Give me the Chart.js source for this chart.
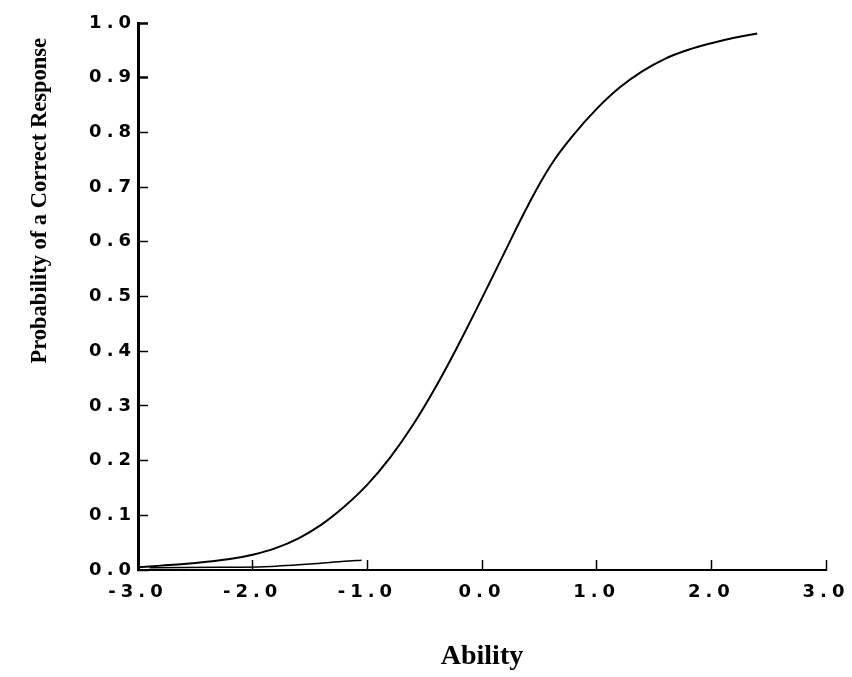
<!DOCTYPE html>
<html>
<head>
<meta charset="utf-8">
<script src="https://cdn.jsdelivr.net/npm/chart.js@4.4.1/dist/chart.umd.min.js"></script>
<style>
  html, body { margin: 0; padding: 0; background: #ffffff; }
  #wrap { position: relative; width: 852px; height: 677px; }
</style>
</head>
<body>
<div id="wrap"><canvas id="chart"></canvas></div>
<script>
// ---- data ----
const abilityX = [-3.0, -2.8, -2.6, -2.4, -2.2, -2.0, -1.8, -1.6, -1.4, -1.2, -1.0, -0.8, -0.6, -0.4, -0.2, 0.0, 0.2, 0.4, 0.6, 0.8, 1.0, 1.2, 1.4, 1.6, 1.8, 2.0, 2.2, 2.4];
const probCorrect = [0.005, 0.008, 0.011, 0.015, 0.020, 0.028, 0.040, 0.058, 0.083, 0.116, 0.156, 0.206, 0.266, 0.336, 0.414, 0.497, 0.582, 0.666, 0.740, 0.796, 0.843, 0.882, 0.912, 0.935, 0.951, 0.963, 0.973, 0.981];
const faintX = [-2.9, -2.3, -1.9, -1.5, -1.2, -1.05];
const faintY = [0.004, 0.005, 0.006, 0.011, 0.016, 0.018];
const xTickLabels = ['-3.0', '-2.0', '-1.0', '0.0', '1.0', '2.0', '3.0'];
const yTickLabels = ['0.0', '0.1', '0.2', '0.3', '0.4', '0.5', '0.6', '0.7', '0.8', '0.9', '1.0'];
const xAxisTitle = 'Ability';
const yAxisTitle = 'Probability of a Correct Response';

// ---- styling ----
const tickFont = { family: '"DejaVu Sans", Verdana, sans-serif', size: 18, weight: 'bold' };
const titleFamily = '"Liberation Serif", "Times New Roman", serif';

const pairs = (xs, ys) => xs.map((x, i) => ({ x: x, y: ys[i] }));

// wide tick-label lettering (tick labels are drawn on a layer after the datasets)
const spacedTicks = {
  id: 'spacedTicks',
  afterDatasetsDraw(chart) { chart.ctx.letterSpacing = '5px'; },
  afterDraw(chart) { chart.ctx.letterSpacing = '0px'; }
};

new Chart(document.getElementById('chart'), {
  type: 'scatter',
  data: {
    datasets: [
      {
        label: 'ICC',
        data: pairs(abilityX, probCorrect),
        showLine: true,
        borderColor: '#000000',
        borderWidth: 2,
        pointRadius: 0,
        tension: 0.4,
        fill: false
      },
      {
        label: 'faint',
        data: pairs(faintX, faintY),
        showLine: true,
        borderColor: '#000000',
        borderWidth: 1.5,
        pointRadius: 0,
        tension: 0.3,
        fill: false
      }
    ]
  },
  options: {
    responsive: true,
    maintainAspectRatio: false,
    animation: false,
    events: [],
    layout: { padding: { left: 0, top: 23, right: 26, bottom: 0 } },
    plugins: { legend: { display: false }, tooltip: { enabled: false } },
    scales: {
      x: {
        type: 'linear',
        position: 'bottom',
        min: -3, max: 3,
        ticks: {
          stepSize: 1,
          z: 1,
          color: '#000000',
          font: tickFont,
          padding: 22,
          maxRotation: 0,
          autoSkip: false,
          callback: (v, i) => xTickLabels[i]
        },
        grid: {
          display: true,
          drawOnChartArea: false,
          drawTicks: true,
          tickLength: -10,
          tickColor: '#000000',
          tickWidth: 1.5,
          color: '#000000'
        },
        border: { display: true, color: '#000000', width: 2 },
        title: {
          display: true,
          text: xAxisTitle,
          color: '#000000',
          font: { family: titleFamily, size: 28, weight: 'bold' },
          padding: { top: 0, bottom: 3 }
        },
        afterFit(s) { s.height = 107; s.paddingLeft = 0; s.paddingRight = 0; }
      },
      y: {
        type: 'linear',
        position: 'left',
        weight: 0,
        min: 0, max: 1,
        ticks: {
          stepSize: 0.1,
          z: 1,
          color: '#000000',
          font: tickFont,
          padding: 12,
          autoSkip: false,
          callback: (v, i) => yTickLabels[i]
        },
        grid: {
          display: true,
          drawOnChartArea: false,
          drawTicks: true,
          tickLength: -10,
          tickColor: '#000000',
          tickWidth: (c) => (c.tick && c.tick.value > 0.85 ? 2.5 : 1.5),
          color: '#000000'
        },
        border: { display: true, color: '#000000', width: 3 },
        afterFit(s) { s.width = 78; }
      },
      yTitleAxis: {
        axis: 'y',
        type: 'linear',
        position: 'left',
        stack: 'titleStack',
        stackWeight: 0.65,
        weight: 2,
        min: 0, max: 1,
        ticks: { display: false },
        grid: { display: false, drawTicks: false },
        border: { display: false },
        title: {
          display: true,
          text: yAxisTitle,
          color: '#000000',
          font: { family: titleFamily, size: 22.5, weight: 'bold' },
          padding: { top: 27, bottom: 0 }
        },
        afterFit(s) { s.width = 60; }
      },
      yTitleSpacer: {
        axis: 'y',
        type: 'linear',
        position: 'left',
        stack: 'titleStack',
        stackWeight: 0.35,
        weight: 1,
        min: 0, max: 1,
        ticks: { display: false },
        grid: { display: false, drawTicks: false },
        border: { display: false },
        title: { display: false },
        afterFit(s) { s.width = 60; }
      }
    }
  },
  plugins: [spacedTicks]
});
</script>
</body>
</html>
